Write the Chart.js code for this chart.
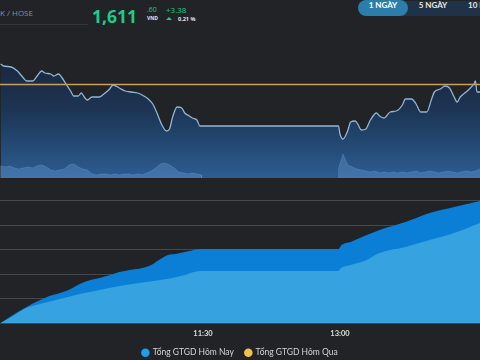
<!DOCTYPE html>
<html><head><meta charset="utf-8">
<script src="https://cdn.jsdelivr.net/npm/chart.js@4.4.1/dist/chart.umd.min.js"></script>
<style>
html,body{margin:0;padding:0;background:#212327;width:480px;height:360px;overflow:hidden;}
body{position:relative;font-family:Lato,'Open Sans',sans-serif;}
.a{position:absolute;white-space:nowrap;line-height:1;}
#top{position:absolute;left:0;top:40px;}
#bot{position:absolute;left:0;top:180px;}
.btn{position:absolute;top:0;height:16px;line-height:16px;font:bold 8px Lato;color:#fff;text-align:center;}
</style></head><body>
<div class="a" style="left:0;top:9px;font-size:8px;color:#8d9095;font-family:'Open Sans'">K / HOSE</div>
<div class="a" style="left:0;top:24px;width:88px;height:1px;background:#34363b"></div>
<div class="a" style="left:92px;top:3.5px;font:bold 17.5px 'Open Sans';color:#1fcb8a">1,611</div>
<div class="a" style="left:147px;top:5px;font:7px 'Open Sans';color:#1fcb8a">.60</div>
<div class="a" style="left:147px;top:15px;font:bold 5px 'Open Sans';color:#e6e6e6">VND</div>
<div class="a" style="left:166px;top:4px;font:8px 'Open Sans';color:#1fcb8a">+3.38</div>
<div class="a" style="left:166px;top:16.5px;width:0;height:0;border-left:3.5px solid transparent;border-right:3.5px solid transparent;border-bottom:3.5px solid #1fcb8a"></div>
<div class="a" style="left:178px;top:15px;font:bold 5.5px 'Open Sans';color:#e6e6e6">0.21 %</div>
<div class="a" style="left:358px;top:1px;width:140px;height:15px;border-radius:8px;background:#1f3248"></div>
<div class="a" style="left:358px;top:0;width:50px;height:16px;border-radius:8px;background:#2a7ea9"></div>
<div class="btn" style="left:358px;width:50px">1 NGÀY</div>
<div class="btn" style="left:408px;width:50px;color:#e8e8e8">5 NGÀY</div>
<div class="btn" style="left:468px;width:40px;text-align:left;color:#e8e8e8">10 NGÀY</div>

<canvas id="top" width="480" height="138"></canvas>
<canvas id="bot" width="480" height="187"></canvas>
<script>
// ---- data ----
const REF_PRICE = 1608.2;
const priceTimes = ['9:17','9:19','9:24','9:28','9:32','9:34','9:38','9:41','9:44','9:46','9:50','9:52','9:55','9:57',
  '10:00','10:03','10:05','10:08','10:10','10:12','10:14','10:17','10:22','10:24','10:28','10:31','10:35','10:39','10:43','10:47','10:50','10:54','10:57',
  '11:00','11:03','11:06','11:08','11:10','11:13','11:16','11:18','11:21','11:23','11:26','11:28','11:30','12:59',
  '13:00','13:02','13:05','13:07','13:10','13:12','13:14','13:17','13:20','13:24','13:26','13:29','13:33','13:37','13:41','13:43','13:47','13:50','13:53','13:57',
  '14:00','14:02','14:06','14:09','14:12','14:15','14:17','14:19','14:22','14:25','14:28','14:29','14:30','14:32'];
const priceValues = [1612.3,1611.9,1611.7,1610.9,1609.5,1608.9,1608.9,1609.9,1610.9,1610.5,1610.3,1609.9,1610.3,1609.7,
  1608.3,1606.9,1605.9,1605.9,1606.5,1605.7,1605.1,1605.7,1605.7,1606.1,1607.1,1608.1,1607.5,1606.9,1606.7,1606.5,1606.1,1605.3,1604.3,
  1602.3,1600.1,1598.9,1599.3,1601.7,1603.7,1603.5,1602.5,1601.9,1601.5,1601.1,1599.9,1599.9,1599.9,
  1598.3,1597.3,1598.9,1600.7,1600.9,1600.1,1599.1,1599.3,1601.1,1602.5,1601.9,1601.5,1602.7,1602.9,1604.1,1605.3,1605.3,1604.3,1602.7,1602.7,
  1605.1,1606.7,1607.3,1607.9,1607.5,1605.7,1604.7,1605.7,1606.5,1607.3,1608.3,1608.9,1606.7,1606.7];

// volume, one value every 3 minutes in each session
const volStepMin = 3;
const volStartAM = '9:17';
const volumeAM = [12,11,12,10,9,10,11,10,12,13,11,8,7,8,9,13,14,11,9,8,4,3,4,4,3,4,3,4,4,3,4,3,5,7,10,14,15,13,10,6,5,4,5,4,3];
const volStartPM = '12:59';
const volumePM = [9,24,13,11,9,8,7,6,7,5,6,5,6,5,6,5,6,7,5,6,7,6,5,6,7,6,5,6,7,6,7,9];

// cumulative traded value (bn VND)
const todayTimes = ['9:17','9:23','9:34','9:43','9:49','9:56','10:03','10:09','10:16','10:22','10:29','10:35','10:42','10:50','10:56',
  '11:02','11:07','11:12','11:21','11:28','11:30','12:59','13:01','13:07','13:16','13:26','13:43','13:59','14:15','14:32'];
const todayValues = [0,980,2620,3770,4430,4920,5570,6390,7050,7380,7870,8360,8690,9020,9510,
  10490,11150,11310,11800,12130,12130,12130,12790,13280,14260,15250,16560,18030,19020,20000];
const yesterdayTimes = ['9:17','9:23','9:34','9:43','9:56','10:09','10:22','10:35','10:48','11:02','11:10','11:18','11:28','12:59',
  '13:00','13:07','13:16','13:26','13:43','13:59','14:15','14:32'];
const yesterdayValues = [0,820,2460,3110,3930,4750,5410,6070,6560,7050,7380,7870,8520,8520,
  8850,9510,10160,11480,12460,13610,14750,16390];

const xTickLabels = ['11:30','13:00'];
const valueGridTicks = [0,4000,8000,12000,16000,20000];
const seriesNames = ['Tổng GTGD Hôm Nay','Tổng GTGD Hôm Qua'];

// ---- helpers ----
const toMin = s => { const [h,m] = s.split(':').map(Number); return h*60+m; };
const fmt = v => Math.floor(v/60) + ':' + String(Math.round(v%60)).padStart(2,'0');
const X_MIN = 556.6, X_MAX = 872;
const pts = (times, vals) => times.map((t,i) => ({x: toMin(t), y: vals[i]}));
const volPts = (start, vals) => vals.map((v,i) => ({x: toMin(start) + i*volStepMin, y: v}));

const priceFill = (ctx) => {
  const {chart} = ctx; const area = chart.chartArea;
  if (!area) return '#1d3452';
  const g = chart.ctx.createLinearGradient(0, area.top, 0, area.bottom);
  g.addColorStop(0, '#1d2533');
  g.addColorStop(0.2, '#1b2940');
  g.addColorStop(0.5, '#1d3452');
  g.addColorStop(0.72, '#22466f');
  g.addColorStop(1, '#2d5d92');
  return g;
};

const volAM = volPts(volStartAM, volumeAM);
const volPM = volPts(volStartPM, volumePM);
const volData = [{x: volAM[0].x, y: 0}, ...volAM, {x: volAM[volAM.length-1].x, y: 0}, {x: volAM[volAM.length-1].x + 1, y: null},
                 {x: volPM[0].x, y: 0}, ...volPM];

new Chart(document.getElementById('top'), {
  type: 'line',
  data: { datasets: [
    { data: pts(priceTimes, priceValues), borderColor:'#8db6d8', borderWidth:1.3, pointRadius:0,
      fill:'start', backgroundColor: priceFill, tension:0.4, cubicInterpolationMode:'monotone', order:2, yAxisID:'y' },
    { data: volData, borderColor:'rgba(120,170,225,0.35)', borderWidth:0.8, backgroundColor:'rgba(120,170,225,0.3)',
      fill:'origin', pointRadius:0, tension:0, spanGaps:false, yAxisID:'yv', order:1 },
    { data: [{x:X_MIN, y:REF_PRICE},{x:X_MAX, y:REF_PRICE}], borderColor:'#c9a15c', borderWidth:1.6,
      pointRadius:0, fill:false, order:0, yAxisID:'y' }
  ]},
  options: {
    responsive:false, animation:false, layout:{padding:0},
    plugins:{ legend:{display:false}, tooltip:{enabled:false} },
    scales:{
      x:{ type:'linear', min:X_MIN, max:X_MAX, offset:false, display:false },
      y:{ min:1589.5, max:1617.1, display:false },
      yv:{ min:0, max:138, display:false }
    }
  }
});

const legendItems = [
  { text: seriesNames[0], fillStyle:'#1f9cf0', strokeStyle:'#1f9cf0', lineWidth:0, pointStyle:'circle', hidden:false, datasetIndex:0, fontColor:'#d4d4d4' },
  { text: seriesNames[1], fillStyle:'#f5c04a', strokeStyle:'#f5c04a', lineWidth:0, pointStyle:'circle', hidden:false, datasetIndex:1, fontColor:'#d4d4d4' }
];

new Chart(document.getElementById('bot'), {
  type: 'line',
  data: { datasets: [
    { label: seriesNames[0], data: pts(todayTimes, todayValues), fill:'origin', backgroundColor:'#0b7fd5', borderWidth:0,
      pointRadius:0, tension:0.4, cubicInterpolationMode:'monotone', order:2 },
    { label: seriesNames[1], data: pts(yesterdayTimes, yesterdayValues), fill:'origin', backgroundColor:'#36a3e0', borderWidth:0,
      pointRadius:0, tension:0.4, cubicInterpolationMode:'monotone', order:1 }
  ]},
  options: {
    responsive:false, animation:false,
    layout:{ padding:{ top:2, left:0, right:0, bottom:0 } },
    plugins:{
      tooltip:{enabled:false},
      legend:{ position:'bottom', labels:{ usePointStyle:true, boxWidth:6, boxHeight:6, padding:11.5, color:'#d4d4d4',
        font:{ family:'Lato', size:8.5 }, generateLabels: () => legendItems } }
    },
    scales:{
      x:{ type:'linear', min:X_MIN, max:X_MAX, offset:false, grid:{display:false, drawTicks:false, tickLength:0}, border:{display:false},
        afterBuildTicks: s => { s.ticks = xTickLabels.map(t => ({value: toMin(t)})); },
        afterFit: s => { s.height = 14; },
        ticks:{ autoSkip:false, maxRotation:0, padding:6, color:'#dedede', font:{family:'Lato', size:7.5, weight:'bold'},
          callback: v => fmt(v) } },
      y:{ min:0, max:23100, grid:{ color:'#45484d', drawTicks:false, lineWidth:1 }, border:{display:false},
        ticks:{ display:false },
        afterBuildTicks: s => { s.ticks = valueGridTicks.map(v => ({value: v})); },
        afterFit: s => { s.width = 0; } }
    }
  }
});
</script>
</body></html>
